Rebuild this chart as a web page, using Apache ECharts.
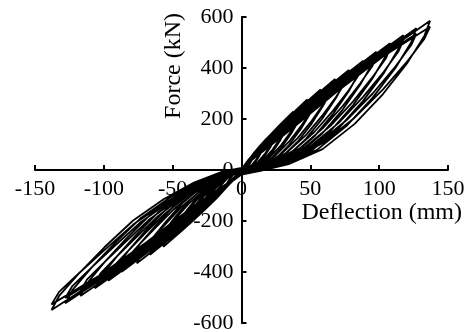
<!DOCTYPE html>
<html>
<head>
<meta charset="utf-8">
<script src="https://cdn.jsdelivr.net/npm/echarts@6/dist/echarts.min.js"></script>
<style>
html,body{margin:0;padding:0;background:#fff;}
#chart{width:472px;height:332px;}
</style>
</head>
<body>
<div id="chart"></div>
<script>
// Axis ticks
const xTicks = [-150, -100, -50, 0, 50, 100, 150];
const yTicks = [-600, -400, -200, 0, 200, 400, 600];
const xName = 'Deflection (mm)';
const yName = 'Force (kN)';

// Hysteresis cycles [deflection (mm), force (kN)]; two cycles (a, b) per amplitude level
const cycle01a = [[0,8],[34.3,167],[68.5,322],[102.8,456],[137,585],[132.9,527],[120.6,421],[102.8,298],[82.2,181],[58.9,82],[34.3,23],[13.7,-3],[0,-18],[-34.5,-154],[-69,-299],[-103.5,-428],[-138,-549],[-132.5,-494],[-117.3,-401],[-99.4,-302],[-78.7,-198],[-56.6,-115],[-34.5,-49],[-13.8,-6],[0,8]];
const cycle01b = [[0,8],[34.3,152],[68.5,304],[102.8,445],[137,562],[132.9,515],[120.6,427],[102.8,316],[82.2,205],[58.9,105],[34.3,35],[13.7,0],[0,-15],[-34.5,-140],[-69,-283],[-103.5,-415],[-138,-527],[-132.5,-478],[-117.3,-401],[-99.4,-313],[-78.7,-214],[-56.6,-132],[-34.5,-60],[-13.8,-11],[0,8]];
const cycle02a = [[0,8],[31.8,159],[63.5,306],[95.3,434],[127,556],[123.2,500],[111.8,400],[95.3,284],[76.2,172],[54.6,78],[31.8,22],[12.7,-3],[0,-17],[-32,-146],[-64,-285],[-96,-408],[-128,-523],[-122.9,-471],[-108.8,-382],[-92.2,-288],[-73,-188],[-52.5,-110],[-32,-47],[-12.8,-5],[0,8]];
const cycle02b = [[0,8],[31.8,145],[63.5,289],[95.3,423],[127,534],[123.2,489],[111.8,406],[95.3,300],[76.2,195],[54.6,100],[31.8,33],[12.7,0],[0,-14],[-32,-133],[-64,-269],[-96,-395],[-128,-502],[-122.9,-455],[-108.8,-382],[-92.2,-298],[-73,-204],[-52.5,-126],[-32,-58],[-12.8,-11],[0,8]];
const cycle03a = [[0,8],[29.4,151],[58.8,291],[88.2,413],[117.6,529],[114.1,476],[103.5,381],[88.2,270],[70.6,164],[50.6,74],[29.4,21],[11.8,-3],[0,-16],[-29.3,-138],[-58.5,-269],[-87.8,-385],[-117,-494],[-112.3,-445],[-99.5,-361],[-84.2,-272],[-66.7,-178],[-48,-104],[-29.3,-45],[-11.7,-5],[0,8]];
const cycle03b = [[0,7],[29.4,138],[58.8,275],[88.2,402],[117.6,508],[114.1,466],[103.5,386],[88.2,286],[70.6,185],[50.6,95],[29.4,32],[11.8,0],[0,-13],[-29.3,-126],[-58.5,-254],[-87.8,-373],[-117,-474],[-112.3,-430],[-99.5,-361],[-84.2,-282],[-66.7,-193],[-48,-119],[-29.3,-54],[-11.7,-10],[0,7]];
const cycle04a = [[0,7],[27,142],[54,273],[81,388],[108,497],[104.8,447],[95,358],[81,254],[64.8,154],[46.4,70],[27,20],[10.8,-3],[0,-15],[-26.6,-130],[-53.3,-253],[-79.9,-362],[-106.5,-464],[-102.2,-418],[-90.5,-339],[-76.7,-255],[-60.7,-167],[-43.7,-97],[-26.6,-42],[-10.7,-5],[0,7]];
const cycle04b = [[0,7],[27,129],[54,258],[81,378],[108,477],[104.8,437],[95,363],[81,268],[64.8,174],[46.4,90],[27,30],[10.8,0],[0,-12],[-26.6,-118],[-53.3,-239],[-79.9,-350],[-106.5,-445],[-102.2,-404],[-90.5,-339],[-76.7,-265],[-60.7,-181],[-43.7,-111],[-26.6,-51],[-10.7,-9],[0,7]];
const cycle05a = [[0,7],[24.5,132],[49,255],[73.5,362],[98,464],[95.1,418],[86.2,334],[73.5,237],[58.8,144],[42.1,65],[24.5,19],[9.8,-2],[0,-14],[-24.2,-122],[-48.4,-237],[-72.6,-339],[-96.8,-434],[-92.9,-391],[-82.3,-317],[-69.7,-239],[-55.2,-156],[-39.7,-91],[-24.2,-39],[-9.7,-4],[0,7]];
const cycle05b = [[0,6],[24.5,121],[49,241],[73.5,353],[98,445],[95.1,408],[86.2,339],[73.5,251],[58.8,162],[42.1,84],[24.5,28],[9.8,0],[0,-12],[-24.2,-111],[-48.4,-224],[-72.6,-328],[-96.8,-417],[-92.9,-378],[-82.3,-317],[-69.7,-247],[-55.2,-169],[-39.7,-104],[-24.2,-48],[-9.7,-9],[0,6]];
const cycle06a = [[0,6],[22.1,122],[44.3,236],[66.4,335],[88.5,429],[85.8,386],[77.9,309],[66.4,219],[53.1,133],[38.1,60],[22.1,17],[8.9,-2],[0,-13],[-21.8,-112],[-43.5,-218],[-65.3,-311],[-87,-399],[-83.5,-359],[-74,-291],[-62.6,-220],[-49.6,-144],[-35.7,-84],[-21.8,-36],[-8.7,-4],[0,6]];
const cycle06b = [[0,6],[22.1,112],[44.3,223],[66.4,326],[88.5,412],[85.8,378],[77.9,313],[66.4,232],[53.1,150],[38.1,77],[22.1,26],[8.9,0],[0,-11],[-21.8,-102],[-43.5,-206],[-65.3,-301],[-87,-383],[-83.5,-347],[-74,-291],[-62.6,-227],[-49.6,-156],[-35.7,-96],[-21.8,-44],[-8.7,-8],[0,6]];
const cycle07a = [[0,6],[19.5,112],[39,216],[58.5,306],[78,392],[75.7,353],[68.6,282],[58.5,200],[46.8,122],[33.5,55],[19.5,16],[7.8,-2],[0,-12],[-19,-103],[-38,-200],[-57,-286],[-76,-366],[-73,-329],[-64.6,-267],[-54.7,-201],[-43.3,-132],[-31.2,-77],[-19,-33],[-7.6,-4],[0,5]];
const cycle07b = [[0,5],[19.5,102],[39,204],[58.5,298],[78,376],[75.7,345],[68.6,286],[58.5,212],[46.8,137],[33.5,71],[19.5,24],[7.8,0],[0,-10],[-19,-93],[-38,-189],[-57,-276],[-76,-351],[-73,-318],[-64.6,-267],[-54.7,-209],[-43.3,-143],[-31.2,-88],[-19,-40],[-7.6,-7],[0,5]];
const cycle08a = [[0,5],[17,102],[34,196],[51,279],[68,357],[66,321],[59.8,257],[51,182],[40.8,111],[29.2,50],[17,14],[6.8,-2],[0,-11],[-16.6,-93],[-33.3,-182],[-49.9,-260],[-66.5,-333],[-63.8,-300],[-56.5,-243],[-47.9,-183],[-37.9,-120],[-27.3,-70],[-16.6,-30],[-6.7,-3],[0,5]];
const cycle08b = [[0,5],[17,93],[34,186],[51,271],[68,343],[66,314],[59.8,261],[51,193],[40.8,125],[29.2,64],[17,21],[6.8,0],[0,-9],[-16.6,-85],[-33.3,-172],[-49.9,-251],[-66.5,-320],[-63.8,-290],[-56.5,-243],[-47.9,-190],[-37.9,-130],[-27.3,-80],[-16.6,-37],[-6.7,-7],[0,4]];
const cycle09a = [[0,4],[14.4,90],[28.8,174],[43.1,247],[57.5,316],[55.8,284],[50.6,228],[43.1,161],[34.5,98],[24.7,44],[14.4,13],[5.8,-2],[0,-10],[-14.2,-84],[-28.4,-164],[-42.6,-235],[-56.8,-301],[-54.5,-271],[-48.3,-220],[-40.9,-166],[-32.4,-108],[-23.3,-63],[-14.2,-27],[-5.7,-3],[0,4]];
const cycle09b = [[0,4],[14.4,82],[28.8,164],[43.1,240],[57.5,303],[55.8,278],[50.6,231],[43.1,171],[34.5,111],[24.7,57],[14.4,19],[5.8,0],[0,-8],[-14.2,-77],[-28.4,-155],[-42.6,-227],[-56.8,-289],[-54.5,-262],[-48.3,-220],[-40.9,-172],[-32.4,-117],[-23.3,-72],[-14.2,-33],[-5.7,-6],[0,4]];
const cycle10a = [[0,4],[12,79],[23.9,152],[35.9,216],[47.8,277],[46.4,249],[42.1,199],[35.9,141],[28.7,86],[20.6,39],[12,11],[4.8,-1],[0,-8],[-11.8,-71],[-23.5,-139],[-35.3,-199],[-47,-255],[-45.1,-230],[-40,-186],[-33.8,-140],[-26.8,-92],[-19.3,-54],[-11.8,-23],[-4.7,-3],[0,3]];
const cycle10b = [[0,3],[12,72],[23.9,144],[35.9,211],[47.8,266],[46.4,244],[42.1,202],[35.9,150],[28.7,97],[20.6,50],[12,17],[4.8,0],[0,-7],[-11.8,-65],[-23.5,-131],[-35.3,-193],[-47,-245],[-45.1,-222],[-40,-186],[-33.8,-145],[-26.8,-100],[-19.3,-61],[-11.8,-28],[-4.7,-5],[0,3]];
const cycle11a = [[0,3],[9.4,65],[18.8,126],[28.2,179],[37.6,229],[36.5,206],[33.1,165],[28.2,117],[22.6,71],[16.2,32],[9.4,9],[3.8,-1],[0,-7],[-9.4,-59],[-18.7,-114],[-28.1,-163],[-37.4,-209],[-35.9,-188],[-31.8,-153],[-26.9,-115],[-21.3,-75],[-15.3,-44],[-9.4,-19],[-3.7,-2],[0,3]];
const cycle11b = [[0,3],[9.4,60],[18.8,119],[28.2,174],[37.6,220],[36.5,202],[33.1,167],[28.2,124],[22.6,80],[16.2,41],[9.4,14],[3.8,0],[0,-6],[-9.4,-53],[-18.7,-108],[-28.1,-158],[-37.4,-201],[-35.9,-182],[-31.8,-153],[-26.9,-119],[-21.3,-82],[-15.3,-50],[-9.4,-23],[-3.7,-4],[0,3]];
const cycle12a = [[0,2],[7,50],[14,97],[21,137],[28,176],[27.2,158],[24.6,127],[21,90],[16.8,55],[12,25],[7,7],[2.8,-1],[0,-5],[-7.5,-44],[-15,-86],[-22.5,-123],[-30,-157],[-28.8,-141],[-25.5,-115],[-21.6,-86],[-17.1,-57],[-12.3,-33],[-7.5,-14],[-3,-2],[0,2]];
const cycle12b = [[0,2],[7,46],[14,92],[21,134],[28,169],[27.2,155],[24.6,129],[21,95],[16.8,62],[12,32],[7,11],[2.8,0],[0,-4],[-7.5,-40],[-15,-81],[-22.5,-119],[-30,-151],[-28.8,-137],[-25.5,-115],[-21.6,-90],[-17.1,-61],[-12.3,-38],[-7.5,-17],[-3,-3],[0,2]];
const cycle13a = [[0,2],[4.6,35],[9.2,68],[13.7,97],[18.3,124],[17.8,112],[16.1,89],[13.7,63],[11,38],[7.9,17],[4.6,5],[1.8,-1],[0,-4],[-5.2,-29],[-10.3,-57],[-15.5,-82],[-20.6,-105],[-19.8,-95],[-17.5,-77],[-14.8,-58],[-11.7,-38],[-8.4,-22],[-5.2,-10],[-2.1,-1],[0,2]];
const cycle13b = [[0,2],[4.6,32],[9.2,65],[13.7,94],[18.3,119],[17.8,109],[16.1,91],[13.7,67],[11,43],[7.9,22],[4.6,7],[1.8,0],[0,-3],[-5.2,-27],[-10.3,-54],[-15.5,-79],[-20.6,-101],[-19.8,-91],[-17.5,-77],[-14.8,-60],[-11.7,-41],[-8.4,-25],[-5.2,-12],[-2.1,-2],[0,2]];
const cycle14 = [[0,2],[2.5,21],[5,40],[7.5,55],[10,70],[9.3,58],[8,43],[6.3,27],[4.5,14],[2.5,4],[1,-1],[0,-3],[-2.8,-17],[-5.5,-34],[-8.3,-48],[-11,-60],[-10.2,-48],[-8.5,-35],[-6.6,-22],[-4.5,-12],[-2.5,-4],[-0.8,0]];
const cycle15 = [[0,1],[2.5,20],[5,35],[4.5,27],[3,13],[1.5,3],[0,-2],[-2.5,-16],[-5,-30],[-4.5,-22],[-3,-11],[-1.5,-3],[0,1]];

// Loading history: small cycles first
const history = [].concat(cycle15, cycle14,
  cycle13a, cycle13b, cycle12a, cycle12b, cycle11a, cycle11b, cycle10a, cycle10b,
  cycle09a, cycle09b, cycle08a, cycle08b, cycle07a, cycle07b, cycle06a, cycle06b,
  cycle05a, cycle05b, cycle04a, cycle04b, cycle03a, cycle03b, cycle02a, cycle02b,
  cycle01a, cycle01b);

const FONT = '"Liberation Serif", "Times New Roman", serif';
const W = 472, H = 332;
const grid = {left: 35, right: 24, top: 17, bottom: 9};
const plotW = W - grid.left - grid.right;
const plotH = H - grid.top - grid.bottom;
// move axes so they cross at the origin
const xAxisOffset = -plotH * (0 - yTicks[0]) / (yTicks[yTicks.length - 1] - yTicks[0]);
const yAxisOffset = -plotW * (0 - xTicks[0]) / (xTicks[xTicks.length - 1] - xTicks[0]);

const chart = echarts.init(document.getElementById('chart'), null, {renderer: 'canvas'});
chart.setOption({
  animation: false,
  backgroundColor: '#fff',
  grid: Object.assign({containLabel: false, outerBoundsMode: 'none'}, grid),
  xAxis: {
    type: 'value',
    position: 'bottom',
    offset: xAxisOffset,
    min: xTicks[0], max: xTicks[xTicks.length - 1], interval: 50,
    splitLine: {show: false},
    axisLine: {onZero: false, lineStyle: {color: '#000', width: 2}},
    axisTick: {inside: true, length: 5, lineStyle: {color: '#000', width: 2}},
    axisLabel: {color: '#000', fontFamily: FONT, fontSize: 22, margin: 8},
    name: xName,
    nameLocation: 'end',
    nameGap: 14,
    nameTextStyle: {color: '#000', fontFamily: FONT, fontSize: 24, align: 'right', verticalAlign: 'top', padding: [31, 0, 0, 0]}
  },
  yAxis: {
    type: 'value',
    position: 'left',
    offset: yAxisOffset,
    min: yTicks[0], max: yTicks[yTicks.length - 1], interval: 200,
    splitLine: {show: false},
    axisLine: {onZero: false, lineStyle: {color: '#000', width: 2}},
    axisTick: {inside: true, length: 5, lineStyle: {color: '#000', width: 2}},
    axisLabel: {color: '#000', fontFamily: FONT, fontSize: 22, margin: 8},
    name: yName,
    nameLocation: 'end',
    nameGap: 4,
    nameRotate: 90,
    nameTextStyle: {color: '#000', fontFamily: FONT, fontSize: 24, align: 'right', verticalAlign: 'bottom', padding: [0, 0, 56, 0]}
  },
  series: [{
    type: 'line',
    data: history,
    showSymbol: false,
    symbol: 'none',
    lineStyle: {color: '#000', width: 1.8},
    clip: false
  }]
});
</script>
</body>
</html>
